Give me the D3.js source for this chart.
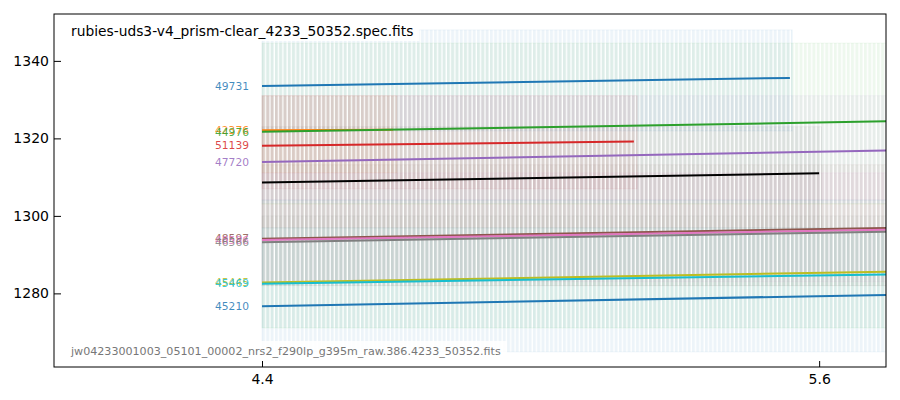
<!DOCTYPE html>
<html><head><meta charset="utf-8">
<script src="https://cdn.jsdelivr.net/npm/d3@7"></script>
<style>
body{margin:0;background:#fff;}
text{font-family:"DejaVu Sans",sans-serif;}
</style></head>
<body><svg id="c" width="900" height="400"></svg>
<script>
// ---- data ----
const traceIds   = ["49731","42376","44976","51139","47720","48597","48586","46566","45445","45469","45210","50352"];
const waveStart  = [4.40, 4.40, 4.40, 4.40, 4.40, 4.40, 4.40, 4.40, 4.40, 4.40, 4.40, 4.40];
const waveEnd    = [5.537, 4.682, 5.744, 5.201, 5.744, 5.744, 5.744, 5.744, 5.744, 5.744, 5.744, 5.600];
const fluxStart  = [1333.5, 1322.1, 1321.7, 1318.1, 1313.9, 1294.1, 1293.8, 1293.2, 1282.8, 1282.5, 1276.7, 1308.6];
const fluxEnd    = [1335.6, 1322.2, 1324.4, 1319.2, 1316.9, 1296.9, 1296.4, 1295.9, 1285.6, 1284.9, 1279.6, 1311.0];
const labelled   = [true, true, true, true, true, true, true, true, true, true, true, false];
// 2D cutout extents for each trace
const bandX0 = [4.40, 4.40, 4.40, 4.40, 4.40, 4.40, 4.40, 4.40, 4.40, 4.40, 4.40, 4.40];
const bandX1 = [5.542, 4.69, 5.80, 5.208, 5.80, 5.80, 5.80, 5.80, 5.80, 5.80, 5.80, 5.605];
const bandY0 = [1321.9, 1311.1, 1303.1, 1307.0, 1304.1, 1282.0, 1283.0, 1282.0, 1271.1, 1271.1, 1264.9, 1296.9];
const bandY1 = [1348.0, 1331.0, 1344.6, 1331.0, 1331.0, 1313.2, 1311.1, 1300.0, 1303.1, 1296.9, 1304.1, 1323.0];
const xTicks = [4.4, 5.6];
const yTicks = [1280, 1300, 1320, 1340];
const xDomain = [3.952, 5.744];
const yDomain = [1261.0, 1352.1];
const titleText = "rubies-uds3-v4_prism-clear_4233_50352.spec.fits";
const fileText = "jw04233001003_05101_00002_nrs2_f290lp_g395m_raw.386.4233_50352.fits";
// ---- style ----
const colors = ["#1f77b4","#ff7f0e","#2ca02c","#d62728","#9467bd","#8c564b","#e377c2","#7f7f7f","#bcbd22","#17becf","#1f77b4","#000000"];
const bandColors = colors.slice(0, 11).concat(["#555555"]);

const W = 900, H = 400;
const m = {l: 54, r: 14, t: 14, b: 33};
const svg = d3.select("#c");
const x = d3.scaleLinear().domain(xDomain).range([m.l, W - m.r]);
const y = d3.scaleLinear().domain(yDomain).range([H - m.b, m.t]);

const defs = svg.append("defs");
defs.append("clipPath").attr("id", "clip").append("rect")
  .attr("x", m.l).attr("y", m.t).attr("width", W - m.l - m.r).attr("height", H - m.t - m.b);
bandColors.forEach((c, i) => {
  const p = defs.append("pattern").attr("id", "st" + i).attr("patternUnits", "userSpaceOnUse")
    .attr("x", x(4.4)).attr("width", 4.3).attr("height", 10);
  p.append("rect").attr("x", 0).attr("y", 0).attr("width", 3.0).attr("height", 10).attr("fill", c);
});

const g = svg.append("g").attr("clip-path", "url(#clip)");
const idx = d3.range(traceIds.length);
const line = d3.line().x(d => x(d[0])).y(d => y(d[1]));

idx.forEach(i => {
  g.append("rect")
    .attr("x", x(bandX0[i])).attr("y", y(bandY1[i]))
    .attr("width", x(bandX1[i]) - x(bandX0[i])).attr("height", y(bandY0[i]) - y(bandY1[i]))
    .attr("fill", "url(#st" + i + ")").attr("fill-opacity", 0.08)
    .attr("stroke", bandColors[i]).attr("stroke-opacity", 0.06);
});
idx.forEach(i => {
  g.append("path")
    .datum([[waveStart[i], fluxStart[i]], [waveEnd[i], fluxEnd[i]]])
    .attr("d", line).attr("fill", "none").attr("stroke", colors[i]).attr("stroke-width", 2);
});
idx.filter(i => labelled[i]).forEach(i => {
  svg.append("text").attr("x", x(waveStart[i]) - 13).attr("y", y(fluxStart[i]))
    .attr("dy", "0.35em").attr("text-anchor", "end").attr("font-size", "10.7px")
    .attr("fill", colors[i]).attr("fill-opacity", 0.85).text(traceIds[i]);
});

// text boxes
function boxText(tx, ty, txt, size, col) {
  const gg = svg.append("g");
  const r = gg.append("rect").attr("fill", "#fff").attr("fill-opacity", 0.85);
  const t = gg.append("text").attr("x", tx).attr("y", ty).attr("font-size", size).attr("fill", col).text(txt);
  const bb = t.node().getBBox();
  r.attr("x", bb.x - 8).attr("y", bb.y - 4).attr("width", bb.width + 14).attr("height", bb.height + 6);
}
boxText(71, 36, titleText, "13.8px", "#000");
boxText(71, 355, fileText, "11.1px", "#777");

// axes
const xa = svg.append("g").attr("transform", `translate(0,${H - m.b})`)
  .call(d3.axisBottom(x).tickValues(xTicks).tickFormat(d3.format(".1f")).tickSizeInner(-6).tickSizeOuter(0));
const ya = svg.append("g").attr("transform", `translate(${m.l},0)`)
  .call(d3.axisLeft(y).tickValues(yTicks).tickFormat(d3.format("d")).tickSizeInner(-7).tickSizeOuter(0));
[xa, ya].forEach(a => {
  a.select(".domain").remove();
  a.selectAll("text").attr("font-size", "14px").attr("font-family", "DejaVu Sans").attr("fill", "#000");
  a.selectAll("line").attr("stroke", "#000");
});
xa.selectAll("text").attr("dy", "1.2em").attr("y", 0);
ya.selectAll("text").attr("x", -5);
svg.append("rect").attr("x", m.l).attr("y", m.t).attr("width", W - m.l - m.r).attr("height", H - m.t - m.b)
  .attr("fill", "none").attr("stroke", "#000").attr("stroke-width", 1);
</script></body></html>
